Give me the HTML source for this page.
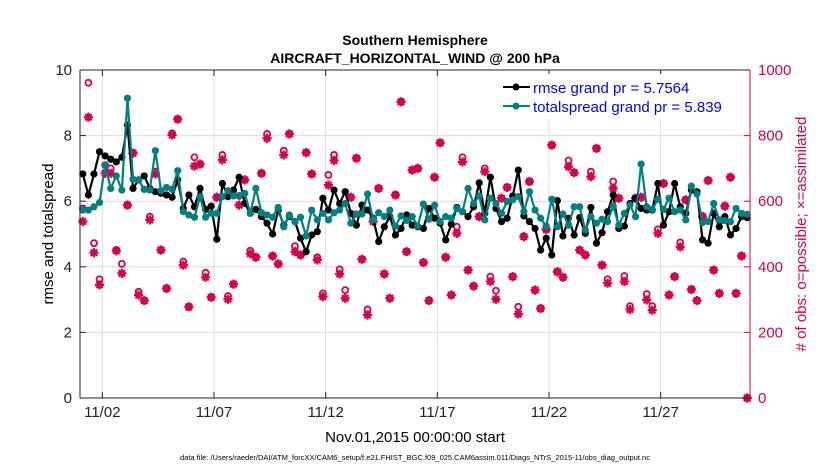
<!DOCTYPE html>
<html><head><meta charset="utf-8"><style>
body{margin:0;background:#fff;}
svg text{font-family:"Liberation Sans",Arial,sans-serif;}
</style></head><body>
<svg id="chart" width="830" height="470" xmlns="http://www.w3.org/2000/svg">
<rect width="830" height="470" fill="#fff"/>
<text x="415" y="45" text-anchor="middle" font-size="14" font-weight="bold">Southern Hemisphere</text>
<text x="415" y="63" text-anchor="middle" font-size="14" font-weight="bold">AIRCRAFT_HORIZONTAL_WIND @ 200 hPa</text>
<g id="grid"></g>
<g id="series"></g>
<g id="axes"></g>
<g>
<rect x="495" y="74" width="252" height="45" fill="#fff" stroke="none"/>
<line x1="503" y1="87" x2="530" y2="87" stroke="#000" stroke-width="2"/>
<circle cx="516" cy="87" r="3.5" fill="#000"/>
<text x="533" y="93" font-size="15" fill="#0000ff">rmse grand pr = 5.7564</text>
<line x1="503" y1="106" x2="530" y2="106" stroke="#008080" stroke-width="2"/>
<circle cx="516" cy="106" r="3.5" fill="#008080"/>
<text x="533" y="112" font-size="15" fill="#0000ff">totalspread grand pr = 5.839</text>
</g>
<text transform="translate(53,234) rotate(-90)" text-anchor="middle" font-size="15">rmse and totalspread</text>
<text transform="translate(806,234) rotate(-90)" text-anchor="middle" font-size="15" fill="#d6004f"># of obs: o=possible; ×=assimilated</text>
<text x="415" y="442" text-anchor="middle" font-size="15">Nov.01,2015 00:00:00 start</text>
<text x="415" y="460" text-anchor="middle" font-size="7.5">data file: /Users/raeder/DAI/ATM_forcXX/CAM6_setup/f.e21.FHIST_BGC.f09_025.CAM6assim.011/Diags_NTrS_2015-11/obs_diag_output.nc</text>
</svg>
<script>
const rmse=[6.83,6.19,6.83,7.51,7.38,7.28,7.2,7.34,8.32,6.39,6.65,6.77,6.39,6.29,6.24,6.19,6.12,6.65,5.78,6.19,5.83,6.39,5.75,5.85,4.84,6.54,6.14,6.34,6.73,5.93,
5.63,5.75,5.53,5.33,5.0,5.73,5.27,5.53,5.38,4.87,4.46,4.97,5.07,6.09,5.73,6.34,5.93,6.29,5.63,5.27,5.88,5.73,5.48,4.77,5.22,5.53,4.97,5.17,5.58,
5.27,5.22,5.17,5.78,5.48,5.33,4.82,5.3,5.81,5.68,5.53,5.83,6.56,5.63,6.73,5.78,5.38,5.48,6.16,6.95,5.55,5.38,5.17,4.51,4.87,4.36,6.02,4.94,5.48,4.97,
5.5,5.02,5.81,4.72,5.04,5.68,6.19,5.17,5.24,5.93,6.09,5.78,5.73,5.73,6.54,5.27,5.68,6.54,5.83,5.63,6.34,6.29,4.82,4.72,5.63,5.22,5.53,4.97,5.17,5.53,5.5];
const spread=[5.73,5.73,5.83,5.96,7.1,6.39,6.77,6.34,9.14,6.67,6.65,6.36,6.34,7.54,6.32,6.42,6.36,6.93,5.68,5.58,5.51,6.14,5.51,5.63,5.63,6.14,6.32,6.16,6.16,6.24,
5.63,6.39,5.65,5.58,5.51,5.81,5.22,5.58,5.38,5.51,4.94,5.73,5.43,5.63,5.43,5.65,5.73,5.93,5.33,5.61,5.61,6.22,5.43,5.65,5.53,5.73,5.24,5.55,5.41,
5.53,5.24,5.91,5.45,5.88,5.38,5.53,5.48,5.78,5.68,6.39,5.93,6.16,5.43,6.09,5.93,5.63,5.99,6.04,6.14,5.68,6.29,5.73,5.48,5.24,6.06,5.22,5.61,5.27,5.83,
5.83,5.12,5.53,5.33,5.45,5.38,5.85,5.27,5.63,5.88,5.53,7.13,5.83,5.75,6.06,5.75,6.09,5.68,5.73,5.43,6.46,6.22,5.35,5.38,5.93,5.43,5.41,5.38,5.78,5.63,5.6];
const nposs=[578,961,472,362,710,700,451,409,588,748,324,297,553,690,451,334,807,850,416,278,734,713,382,307,612,741,311,347,616,665,
449,429,685,805,433,409,754,805,463,436,748,683,429,319,680,741,392,329,612,731,423,270,545,639,378,304,619,903,446,
695,700,413,297,673,778,429,314,522,734,390,341,553,700,370,327,609,642,370,278,492,660,329,273,514,771,385,368,724,687,
451,436,690,761,405,362,660,609,372,280,609,612,317,280,514,654,314,370,474,604,331,297,553,663,390,319,585,673,319,433,0];
const nassim=[538,856,443,345,685,685,449,380,588,746,314,297,543,683,451,334,802,850,405,278,707,713,368,307,612,726,301,347,588,665,
440,429,685,792,433,409,741,805,446,436,748,683,421,309,649,724,378,304,612,731,423,253,538,639,378,304,619,903,446,
695,700,413,297,673,778,429,314,502,720,390,341,553,690,355,301,609,642,370,256,492,660,329,273,514,771,385,368,705,687,
451,436,675,761,405,350,639,609,355,270,609,612,299,268,502,654,314,370,461,604,331,297,553,663,390,319,585,673,319,433,0];
const tickLabels=['11/02','11/07','11/12','11/17','11/22','11/27'];
const tickDays=[1,6,11,16,21,26];
const yTicks=[0,2,4,6,8,10];
const y2Ticks=[0,200,400,600,800,1000];

const L=80,R=750,T=70,B=398,PINK='#d6004f',NS='http://www.w3.org/2000/svg';
const xs=d=>L+(R-L)*d/30;
const ys=v=>B-(B-T)*v/10;
const y2s=v=>B-(B-T)*v/1000;
const tOf=k=>0.125+0.25*k;
function mk(tag,attrs,parent){const e=document.createElementNS(NS,tag);for(const a in attrs)e.setAttribute(a,attrs[a]);parent.appendChild(e);return e;}
const grid=document.getElementById('grid'),ser=document.getElementById('series'),ax=document.getElementById('axes');
tickDays.forEach((d,i)=>{
  const l=mk('line',{x1:xs(d),x2:xs(d),y1:T,y2:B,stroke:'#dcdcdc','stroke-width':1},grid);
  
  
  mk('line',{x1:xs(d),x2:xs(d),y1:B,y2:B-6,stroke:'#222'},ax);
  mk('line',{x1:xs(d),x2:xs(d),y1:T,y2:T+6,stroke:'#222'},ax);
  const t=mk('text',{x:xs(d),y:B+19,'text-anchor':'middle','font-size':15,fill:'#222'},ax);
  t.textContent=tickLabels[i];
  
  
});
y2Ticks.forEach(v=>{
  if(v>0&&v<1000){const g=mk('line',{x1:L,x2:R,y1:y2s(v),y2:y2s(v),stroke:'#f0d0dc','stroke-width':1},grid);
  
  }
  mk('line',{x1:R,x2:R-6,y1:y2s(v),y2:y2s(v),stroke:PINK},ax);
  const t=mk('text',{x:R+8,y:y2s(v)+5,'font-size':15,fill:PINK},ax);
  t.textContent=v;
  
  
});
yTicks.forEach(v=>{
  mk('line',{x1:L,x2:L+6,y1:ys(v),y2:ys(v),stroke:'#222'},ax);
  const t=mk('text',{x:L-8,y:ys(v)+5,'text-anchor':'end','font-size':15,fill:'#222'},ax);
  t.textContent=v;
  
  
});
mk('line',{x1:L,x2:R,y1:T,y2:T,stroke:'#222'},ax);
mk('line',{x1:L,x2:R,y1:B,y2:B,stroke:'#222'},ax);
mk('line',{x1:L,x2:L,y1:T,y2:B,stroke:'#222'},ax);
mk('line',{x1:R,x2:R,y1:T,y2:B,stroke:PINK},ax);

// obs counts
nassim.forEach((v,k)=>{
  const x=xs(tOf(k)),y=y2s(v),s=4.6;
  const p=mk('path',{d:`M${x-s},${y}H${x+s}M${x},${y-s}V${y+s}M${x-s*0.7},${y-s*0.7}L${x+s*0.7},${y+s*0.7}M${x-s*0.7},${y+s*0.7}L${x+s*0.7},${y-s*0.7}`,stroke:PINK,'stroke-width':2.2,fill:'none'},ser);
  
  
});
nposs.forEach((v,k)=>{
  const c=mk('circle',{cx:xs(tOf(k)),cy:y2s(v),r:3,fill:'none',stroke:PINK,'stroke-width':1.8},ser);
  
  
});
function line(vals,color,name){
  const d=vals.map((v,k)=>(k?'L':'M')+xs(tOf(k)).toFixed(1)+','+ys(v).toFixed(1)).join('');
  const p=mk('path',{d:d,stroke:color,'stroke-width':2.2,fill:'none'},ser);
  
  
  vals.forEach((v,k)=>{
    const c=mk('circle',{cx:xs(tOf(k)),cy:ys(v),r:3.6,fill:color},ser);
    
    
  });
}
line(rmse,'#000','rmse');
line(spread,'#008080','totalspread');
</script>
</body></html>
